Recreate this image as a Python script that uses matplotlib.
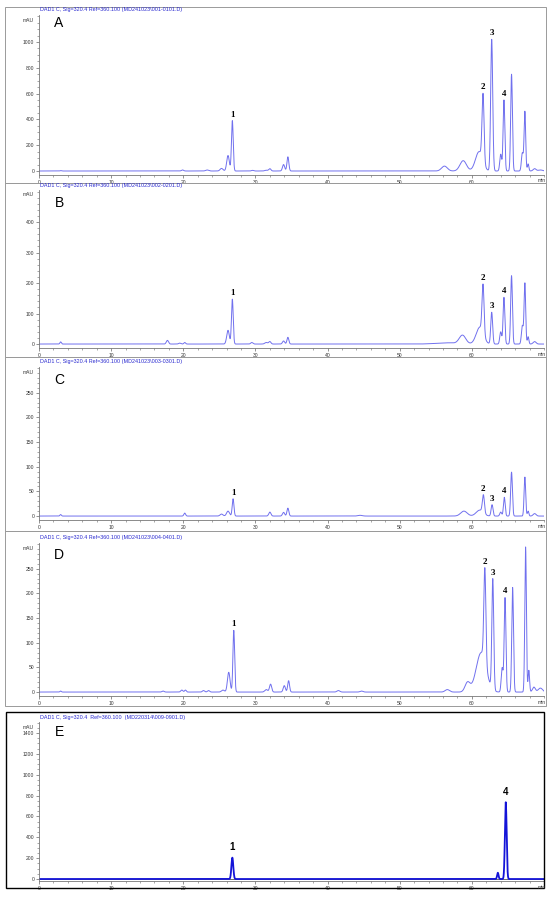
import numpy as np
import matplotlib
matplotlib.use('Agg')
import matplotlib.pyplot as plt
from matplotlib.ticker import MultipleLocator, FixedLocator
from matplotlib.patches import Rectangle

W, H = 550, 897
plt.rcParams['font.family'] = ['Liberation Sans', 'DejaVu Sans']

# time axis (min)
t = np.linspace(0, 70, 7001)

titles = [
    r"DAD1 C, Sig=320.4 Ref=360.100 (MD241023\001-0101.D)",
    r"DAD1 C, Sig=320.4 Ref=360.100 (MD241023\002-0201.D)",
    r"DAD1 C, Sig=320.4 Ref=360.100 (MD241023\003-0301.D)",
    r"DAD1 C, Sig=320.4 Ref=360.100 (MD241023\004-0401.D)",
    r"DAD1 C, Sig=320.4  Ref=360.100  (MD220314\009-0901.D)",
]
letters = ['A', 'B', 'C', 'D', 'E']

# peak tables: retention time (min), height (mAU), sigma (min)
a_rt = [3.0, 19.9, 23.3, 25.3, 26.2, 26.8, 29.6, 31.5, 32.0, 33.9, 34.5, 56.2, 58.8,
        61.0, 61.55, 62.75, 64.0, 64.45, 65.5, 67.0, 67.35, 67.8, 68.7, 69.5]
a_h = [3, 8, 8, 20, 120, 390, 5, 6, 18, 50, 110, 38, 80,
       150, 520, 1020, 130, 550, 750, 140, 460, 55, 18, 8]
a_w = [0.1, 0.15, 0.2, 0.2, 0.18, 0.12, 0.15, 0.2, 0.15, 0.15, 0.13, 0.4, 0.45,
       0.5, 0.14, 0.14, 0.13, 0.12, 0.12, 0.13, 0.11, 0.1, 0.2, 0.3]

b_rt = [3.0, 17.8, 19.5, 20.2, 26.2, 26.8, 29.5, 31.5, 32.0, 33.9, 34.5, 56.5, 58.7,
        61.1, 61.55, 62.75, 64.0, 64.45, 65.5, 67.0, 67.35, 67.8, 68.7]
b_h = [7, 12, 3, 5, 45, 147, 5, 5, 8, 10, 22, 4, 28,
       55, 160, 104, 40, 153, 224, 60, 199, 24, 8]
b_w = [0.1, 0.15, 0.15, 0.12, 0.18, 0.12, 0.15, 0.2, 0.15, 0.15, 0.13, 1.5, 0.45,
       0.5, 0.14, 0.13, 0.13, 0.12, 0.12, 0.13, 0.11, 0.1, 0.2]

c_rt = [3.0, 20.2, 25.3, 26.2, 26.9, 32.0, 33.9, 34.5, 44.5, 58.9,
        61.1, 61.6, 62.8, 64.0, 64.5, 65.5, 67.35, 67.8, 68.7]
c_h = [3, 6, 4, 10, 35, 8, 7.5, 16, 1.5, 10,
       12, 36, 23, 8, 38, 89, 79, 10, 5]
c_w = [0.1, 0.12, 0.2, 0.2, 0.12, 0.15, 0.15, 0.13, 0.3, 0.45,
       0.5, 0.14, 0.13, 0.13, 0.12, 0.12, 0.11, 0.1, 0.2]

d_rt = [3.0, 17.2, 19.8, 20.3, 22.8, 23.5, 25.5, 26.3, 27.0, 31.5, 32.1, 34.0, 34.6,
        41.5, 44.7, 56.6, 59.4, 61.3, 61.8, 62.9, 64.2, 64.6, 65.65, 67.45, 67.9, 68.6, 69.5]
d_h = [2, 2, 4, 4, 3, 3, 4, 40, 125, 5, 16, 13, 23,
       3, 2, 5, 19, 80, 190, 224, 49, 191, 212, 294, 44, 10, 8]
d_w = [0.1, 0.15, 0.15, 0.12, 0.15, 0.15, 0.2, 0.18, 0.12, 0.2, 0.15, 0.15, 0.13,
       0.2, 0.2, 0.3, 0.35, 0.7, 0.14, 0.13, 0.13, 0.12, 0.12, 0.11, 0.1, 0.2, 0.3]

e_rt = [26.8, 63.6, 64.7]
e_h = [205, 60, 736]
e_w = [0.13, 0.1, 0.12]

# labelled peaks (retention times)
lab_names = ['1', '2', '3', '4']
a_lab = [26.8, 61.55, 62.75, 64.45]
b_lab = [26.8, 61.55, 62.75, 64.45]
c_lab = [26.9, 61.6, 62.8, 64.5]
d_lab = [27.0, 61.8, 62.9, 64.6]
e_lab_names = ['1', '4']
e_lab = [26.8, 64.7]

x_major = [0, 10, 20, 30, 40, 50, 60]
y_major = [np.arange(0, 1001, 200), np.arange(0, 401, 100), np.arange(0, 251, 50),
           np.arange(0, 251, 50), np.arange(0, 1401, 200)]


def trace(rt, h, w):
    y = np.zeros_like(t)
    for r, hh, ww in zip(rt, h, w):
        y += hh * np.exp(-0.5 * ((t - r) / ww) ** 2)
    return y


def fx(x):
    return x / W


def fy(y):
    return 1 - y / H


fig = plt.figure(figsize=(W / 100, H / 100), dpi=100)

# panel layout in pixels: (axes top, axes bottom, ymin, ymax, minor step)
panels = [
    (15, 175, -31, 1209, 50),
    (190, 348, -13, 505, 20),
    (367, 520, -8, 302, 10),
    (543, 696, -8, 302, 10),
    (722, 881, -19, 1505, 50),
]
boxes = [(5, 7, 546, 183), (5, 183, 546, 357), (5, 357, 546, 531), (5, 531, 546, 706)]
title_y = [10, 186, 362, 538, 717]
letter_y = [23, 203, 380, 555, 732]

traces = [trace(a_rt, a_h, a_w), trace(b_rt, b_h, b_w), trace(c_rt, c_h, c_w),
          trace(d_rt, d_h, d_w), trace(e_rt, e_h, e_w)]
labs = [(lab_names, a_lab), (lab_names, b_lab), (lab_names, c_lab),
        (lab_names, d_lab), (e_lab_names, e_lab)]

for (x0, y0, x1, y1) in boxes:
    fig.patches.append(Rectangle((fx(x0), fy(y1)), fx(x1) - fx(x0), fy(y0) - fy(y1),
                                 transform=fig.transFigure, fill=False,
                                 edgecolor='#9a9a9a', lw=0.7))
fig.patches.append(Rectangle((fx(6), fy(888)), fx(544) - fx(6), fy(712) - fy(888),
                             transform=fig.transFigure, fill=False,
                             edgecolor='black', lw=1.0))

for i, (top, bot, ymin, ymax, mnr) in enumerate(panels):
    ax = fig.add_axes([fx(39), fy(bot), fx(544) - fx(39), fy(top) - fy(bot)])
    y = traces[i]
    if i < 4:
        ax.plot(t, y, color='#7070ee', lw=0.7)
    else:
        ax.axhline(0, color='#555555', lw=0.6)
        ax.plot(t, y, color='#1414d8', lw=1.3)
    ax.set_xlim(0, 70)
    ax.set_ylim(ymin, ymax)
    for s in ['top', 'right']:
        ax.spines[s].set_visible(False)
    for s in ['left', 'bottom']:
        ax.spines[s].set_color('#777777')
        ax.spines[s].set_linewidth(0.6)
    ax.xaxis.set_major_locator(FixedLocator(x_major))
    ax.xaxis.set_minor_locator(MultipleLocator(2))
    ax.set_xticklabels([str(v) for v in x_major])
    ax.yaxis.set_major_locator(FixedLocator(y_major[i]))
    ax.yaxis.set_minor_locator(MultipleLocator(mnr))
    ax.tick_params(which='major', length=2.5, width=0.5, color='#666666',
                   labelsize=3.6, pad=1, labelcolor='#333333')
    ax.tick_params(which='minor', length=1.3, width=0.4, color='#666666')
    ax.patch.set_alpha(0)

    names, rts = labs[i]
    for nm, r in zip(names, rts):
        m = (t > r - 0.15) & (t < r + 0.15)
        k = np.argmax(np.where(m, y, -1e9))
        if i < 4:
            ax.annotate(nm, (t[k], y[k]), xytext=(0, 1.5), textcoords='offset points',
                        ha='center', va='bottom', fontsize=6.5, fontweight='bold',
                        family='Liberation Serif')
        else:
            ax.annotate(nm, (t[k], y[k]), xytext=(0, 4), textcoords='offset points',
                        ha='center', va='bottom', fontsize=7, fontweight='bold')

    fig.text(fx(34), fy(top + 5), 'mAU', ha='right', va='center', fontsize=3.6,
             color='#333333')
    fig.text(fx(542), fy(bot + 6), 'min', ha='center', va='center', fontsize=3.6,
             color='#333333')
    fig.text(fx(40), fy(title_y[i]), titles[i], ha='left', va='center', fontsize=3.9,
             color='#2a2ad0')
    fig.text(fx(59), fy(letter_y[i]), letters[i], ha='center', va='center',
             fontsize=10)

fig.savefig('out.png', dpi=100)
